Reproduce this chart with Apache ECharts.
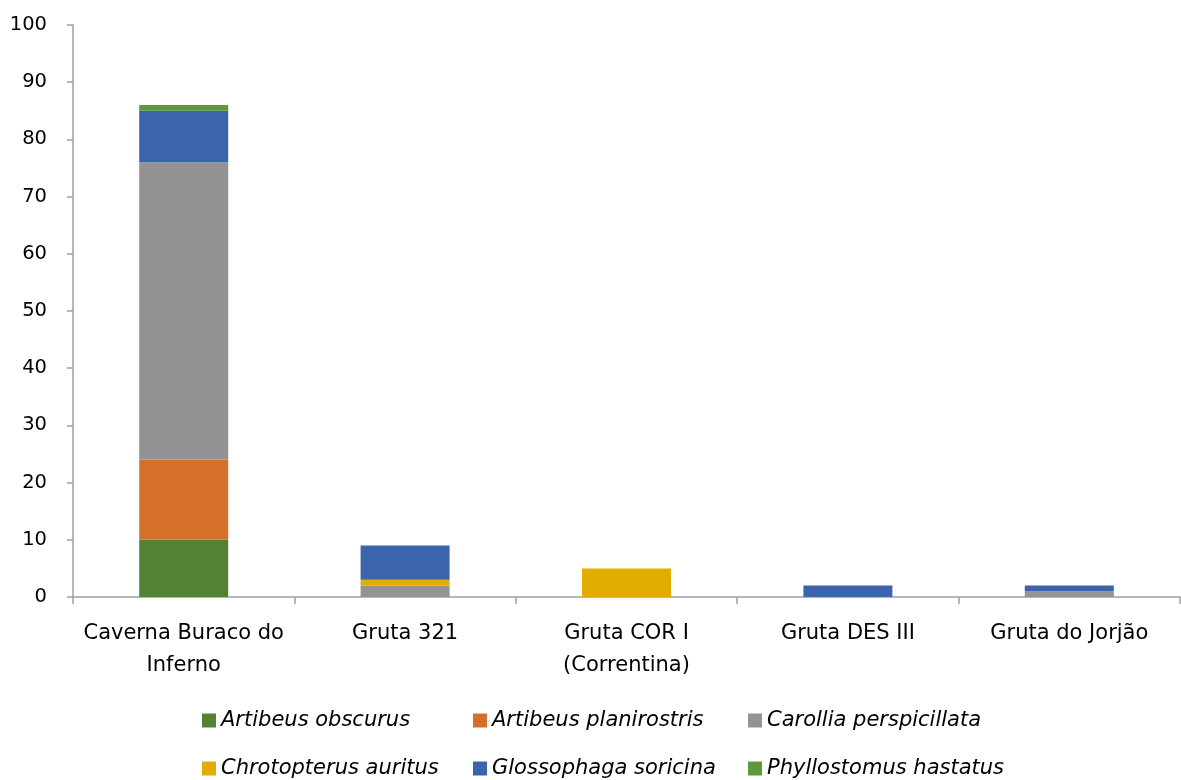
<!DOCTYPE html>
<html>
<head>
<meta charset="utf-8">
<script src="https://cdn.jsdelivr.net/npm/echarts@6/dist/echarts.min.js"></script>
<style>
  html, body { margin: 0; padding: 0; background: #fff; }
  #chart { width: 1181px; height: 780px; }
</style>
</head>
<body>
<div id="chart"></div>
<script>
// Caves sampled (x axis)
const caves = ['Caverna Buraco do\nInferno', 'Gruta 321', 'Gruta COR I\n(Correntina)', 'Gruta DES III', 'Gruta do Jorjão'];

// Bat species, in stacking order (bottom to top)
const species = ['Artibeus obscurus', 'Artibeus planirostris', 'Carollia perspicillata',
                 'Chrotopterus auritus', 'Glossophaga soricina', 'Phyllostomus hastatus'];

// Individuals captured per cave
const artibeusObscurus     = [10, 0, 0, 0, 0];
const artibeusPlanirostris = [14, 0, 0, 0, 0];
const carolliaPerspicillata = [52, 2, 0, 0, 1];
const chrotopterusAuritus  = [0, 1, 5, 0, 0];
const glossophagaSoricina  = [9, 6, 0, 2, 1];
const phyllostomusHastatus = [1, 0, 0, 0, 0];

const seriesValues = [artibeusObscurus, artibeusPlanirostris, carolliaPerspicillata,
                      chrotopterusAuritus, glossophagaSoricina, phyllostomusHastatus];
const colors = ['#548235', '#D5702B', '#939393', '#E2AC00', '#3B64AD', '#5E9A3B'];

const FONT = 'DejaVu Sans';
const axisGrey = '#A0A0A0';

// Legend laid out as a 3 x 2 grid
const legendCols = [202, 473, 748];
const legendRows = [710, 758];
const legends = species.map((name, i) => ({
  data: [name],
  left: legendCols[i % 3],
  top: legendRows[Math.floor(i / 3)],
  padding: 0,
  itemWidth: 14,
  itemHeight: 14,
  icon: 'rect',
  textStyle: { fontFamily: FONT, fontSize: 21, fontStyle: 'italic', color: '#000' }
}));

const chart = echarts.init(document.getElementById('chart'), null, { renderer: 'canvas' });
chart.setOption({
  animation: false,
  color: colors,
  grid: { left: 73, right: 1, top: 25, bottom: 183, containLabel: false },
  legend: legends,
  xAxis: {
    type: 'category',
    data: caves,
    axisLine: { lineStyle: { color: axisGrey, width: 1.5 } },
    axisTick: { show: true, length: 7, lineStyle: { color: axisGrey, width: 1.5 } },
    axisLabel: { fontFamily: FONT, fontSize: 21, color: '#000', margin: 21, lineHeight: 32, interval: 0 }
  },
  yAxis: {
    type: 'value',
    min: 0, max: 100, interval: 10,
    splitLine: { show: false },
    axisLine: { show: true, lineStyle: { color: axisGrey, width: 1.5 } },
    axisTick: { show: true, length: 6, lineStyle: { color: axisGrey, width: 1.5 } },
    axisLabel: { fontFamily: FONT, fontSize: 19.5, color: '#000', margin: 26 }
  },
  series: species.map((name, i) => ({
    name: name,
    type: 'bar',
    stack: 'total',
    barWidth: 89,
    data: seriesValues[i]
  }))
});
</script>
</body>
</html>
